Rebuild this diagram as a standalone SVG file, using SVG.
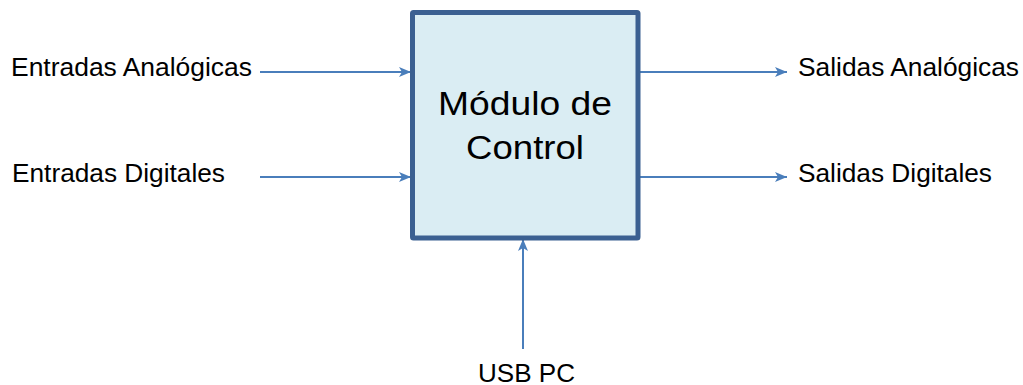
<svg xmlns="http://www.w3.org/2000/svg" width="1023" height="385" viewBox="0 0 1023 385">
  <style>
    .label { font-family: "Liberation Sans", Arial, sans-serif; font-size: 25px; fill: #000; }
    .title { font-family: "Liberation Sans", Arial, sans-serif; font-size: 34px; fill: #000; }
    .wire { stroke: #4A7EBB; stroke-width: 2; fill: none; marker-end: url(#arrow); }
  </style>
  <defs>
    <marker id="arrow" viewBox="0 0 12 10" refX="12" refY="5" markerWidth="12" markerHeight="10" markerUnits="userSpaceOnUse" orient="auto">
      <path d="M0,0 L12,5 L0,10 L3,5 Z" fill="#4A7EBB"/>
    </marker>
  </defs>
  <rect width="1023" height="385" fill="#fff"/>

  <g id="connectors">
    <line class="wire" x1="260" y1="72" x2="411" y2="72"/>
    <line class="wire" x1="260" y1="177" x2="411" y2="177"/>
    <line class="wire" x1="640" y1="72" x2="787" y2="72"/>
    <line class="wire" x1="640" y1="177" x2="787" y2="177"/>
    <line class="wire" x1="523" y1="349" x2="523" y2="239"/>
  </g>

  <g id="modulo-control">
    <rect x="412.5" y="12.5" width="225.5" height="225.5" fill="#DAEDF3" stroke="#3B6091" stroke-width="5" rx="1"/>
    <text class="title" x="438" y="115" textLength="174" lengthAdjust="spacingAndGlyphs">Módulo de</text>
    <text class="title" x="466" y="159" textLength="118" lengthAdjust="spacingAndGlyphs">Control</text>
  </g>

  <g id="entradas-analogicas"><text class="label" x="11" y="76" textLength="241" lengthAdjust="spacingAndGlyphs">Entradas Analógicas</text></g>
  <g id="entradas-digitales"><text class="label" x="12" y="182" textLength="213" lengthAdjust="spacingAndGlyphs">Entradas Digitales</text></g>
  <g id="salidas-analogicas"><text class="label" x="798" y="76" textLength="221" lengthAdjust="spacingAndGlyphs">Salidas Analógicas</text></g>
  <g id="salidas-digitales"><text class="label" x="798" y="182" textLength="194" lengthAdjust="spacingAndGlyphs">Salidas Digitales</text></g>
  <g id="usb-pc"><text class="label" x="478" y="382" textLength="97" lengthAdjust="spacingAndGlyphs">USB PC</text></g>
</svg>
